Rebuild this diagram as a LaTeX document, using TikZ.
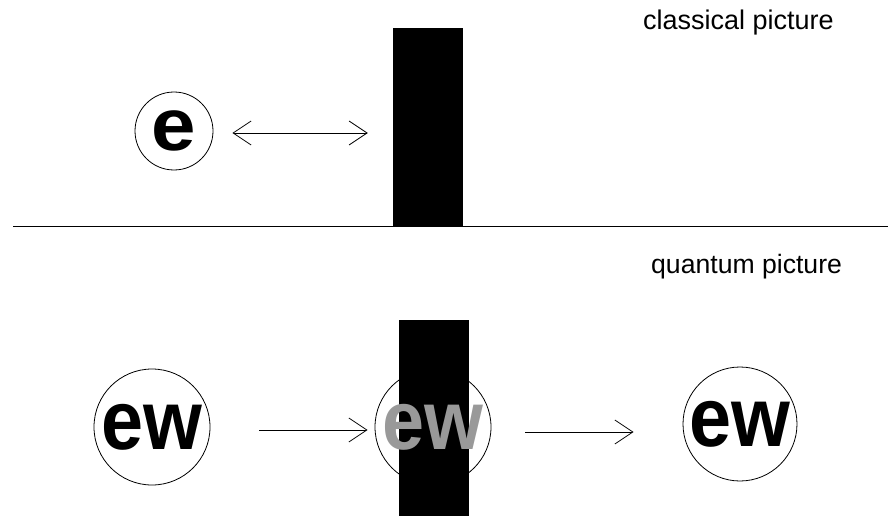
\documentclass[tikz,border=0pt]{standalone}
\usepackage{fontspec}
\setmainfont{Liberation Sans}
\usetikzlibrary{arrows.meta}
\begin{document}
\begin{tikzpicture}[x=1pt,y=-1pt,
  barrier/.style={fill=black,draw=none,inner sep=0pt,minimum width=70pt},
  particle/.style={circle,draw=black,line width=0.8pt,inner sep=0pt},
  ewtext/.style={font=\fontsize{84}{84}\selectfont\bfseries},
  label/.style={font=\fontsize{27}{27}\selectfont,inner sep=0pt,anchor=base west},
  arr/.style={line width=0.7pt,-{Straight Barb[length=18pt,width=24pt,line width=0.8pt]}},
  darr/.style={line width=0.7pt,{Straight Barb[length=18pt,width=24pt,line width=0.8pt]}-{Straight Barb[length=18pt,width=24pt,line width=0.8pt]}}
]
\useasboundingbox (0,0) rectangle (888,516);
% classical picture
\node[label] (tclass) at (643,30) {classical picture};
\node[barrier,minimum height=198pt] (bar1) at (428,127) {};
\draw[line width=0.9pt] (13,226) -- (888,226);
\node[particle,minimum size=78pt,font=\fontsize{74}{74}\selectfont\bfseries] (e) at (174,131) {\scalebox{1.08}[1]{e}};
\draw[darr] ([shift={(19,2)}]e.east) -- ([shift={(-25,6)}]bar1.west);
% quantum picture
\node[label,font=\fontsize{26.6}{26.6}\selectfont] (tquant) at (651,273) {quantum picture};
\node[barrier,minimum height=196pt] (bar2) at (434,418) {};
\node[particle,minimum size=116pt,ewtext] (ew1) at (152,427) {\scalebox{0.9}[1]{ew}};
\node[particle,minimum size=116pt,ewtext,text={rgb,255:red,153;green,153;blue,153}] (ew2) at (433,427) {\scalebox{0.9}[1]{ew}};
\node[particle,minimum size=114pt,ewtext] (ew3) at (740,424) {\scalebox{0.9}[1]{ew}};
\draw[arr] ([shift={(49,3)}]ew1.east) -- ([shift={(-7,3)}]ew2.west);
\draw[arr] ([shift={(34,5)}]ew2.east) -- ([shift={(-49,8)}]ew3.west);
\end{tikzpicture}
\end{document}
